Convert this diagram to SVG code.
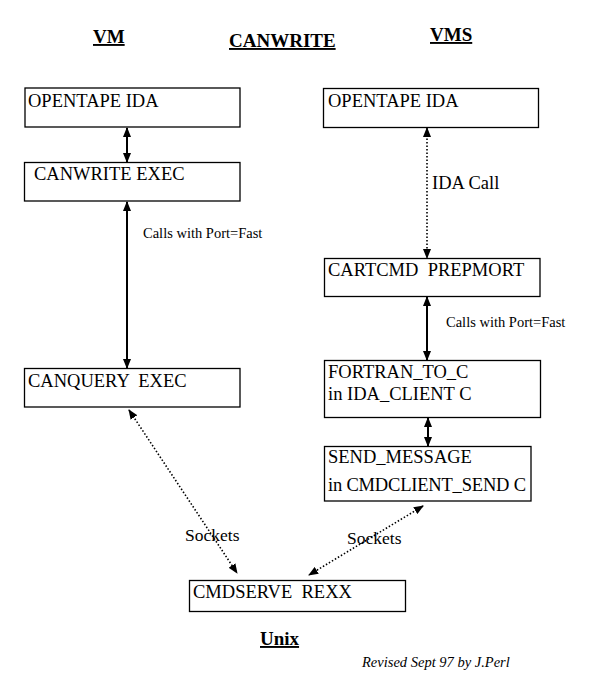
<svg xmlns="http://www.w3.org/2000/svg" width="591" height="697" viewBox="0 0 591 697">
<style>
.box{fill:#fff;stroke:#000;stroke-width:1.3}
.t{font-family:"Liberation Serif","Times New Roman",serif;font-size:18.5px;fill:#000}
.h{font-family:"Liberation Serif","Times New Roman",serif;font-size:19px;font-weight:bold;text-decoration:underline;fill:#000}
.s{font-family:"Liberation Serif","Times New Roman",serif;font-size:14.5px;fill:#000}
.sock{font-family:"Liberation Serif","Times New Roman",serif;font-size:17.5px;fill:#000}
.i{font-family:"Liberation Serif","Times New Roman",serif;font-size:14.5px;font-style:italic;fill:#000}
.solid{stroke:#000;stroke-width:2;fill:none;marker-start:url(#a);marker-end:url(#a)}
.dot{stroke:#000;stroke-width:1.6;stroke-dasharray:1.5 2;fill:none;marker-start:url(#a);marker-end:url(#a)}
</style>
<defs>
<marker id="a" viewBox="0 0 10 8" refX="9" refY="4" markerWidth="10" markerHeight="8" markerUnits="userSpaceOnUse" orient="auto-start-reverse">
<path d="M0,0 L10,4 L0,8 z" fill="#000"/>
</marker>
</defs>
<rect width="591" height="697" fill="#fff"/>
<g id="titles">
<text class="h" x="93" y="43">VM</text>
<text class="h" x="229" y="47">CANWRITE</text>
<text class="h" x="430" y="41">VMS</text>
<text class="h" x="260" y="645">Unix</text>
<text class="i" x="362" y="667">Revised Sept 97 by J.Perl</text>
</g>
<g id="connectors">
<line class="solid" x1="127" y1="128" x2="127" y2="162"/>
<line class="solid" x1="127" y1="202" x2="127" y2="368"/>
<line class="dot" x1="427" y1="128" x2="427" y2="258"/>
<line class="solid" x1="427" y1="297" x2="427" y2="360"/>
<line class="solid" x1="428" y1="418" x2="428" y2="446"/>
<line class="dot" x1="129" y1="410" x2="237" y2="573"/>
<line class="dot" x1="423" y1="506" x2="309" y2="575"/>
<text class="s" x="143" y="238">Calls with Port=Fast</text>
<text class="t" x="432" y="189">IDA Call</text>
<text class="s" x="446" y="327">Calls with Port=Fast</text>
<text class="sock" x="185" y="541">Sockets</text>
<text class="sock" x="347" y="544">Sockets</text>
</g>
<g id="vm-opentape"><rect class="box" x="25" y="88" width="215" height="39"/><text class="t" x="28" y="107">OPENTAPE IDA</text></g>
<g id="canwrite-exec"><rect class="box" x="24.5" y="162.5" width="215.5" height="38.5"/><text class="t" x="34" y="180">CANWRITE EXEC</text></g>
<g id="canquery-exec"><rect class="box" x="24.5" y="368.5" width="215.5" height="38.5"/><text class="t" x="28" y="387" xml:space="preserve">CANQUERY  EXEC</text></g>
<g id="vms-opentape"><rect class="box" x="323.5" y="88.5" width="215" height="39"/><text class="t" x="328" y="107">OPENTAPE IDA</text></g>
<g id="cartcmd"><rect class="box" x="324.5" y="258.5" width="215.5" height="38"/><text class="t" x="328" y="276" xml:space="preserve">CARTCMD  PREPMORT</text></g>
<g id="fortran"><rect class="box" x="324.5" y="360.5" width="216" height="57"/><text class="t" x="328" y="378">FORTRAN_TO_C</text><text class="t" x="328" y="400">in IDA_CLIENT C</text></g>
<g id="send-message"><rect class="box" x="324.5" y="446.5" width="206.5" height="54.5"/><text class="t" x="328" y="463">SEND_MESSAGE</text><text class="t" x="328" y="491" textLength="198" lengthAdjust="spacing">in CMDCLIENT_SEND C</text></g>
<g id="cmdserve"><rect class="box" x="189.5" y="580.5" width="216" height="31"/><text class="t" x="193" y="598" xml:space="preserve">CMDSERVE  REXX</text></g>
</svg>
